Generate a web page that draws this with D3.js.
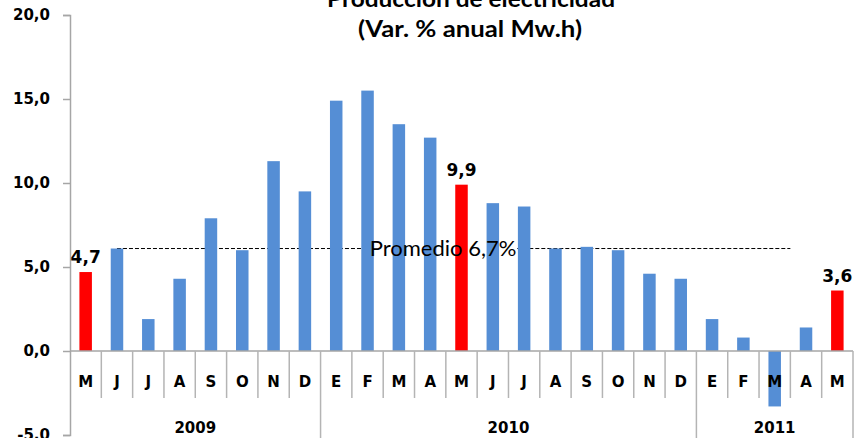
<!DOCTYPE html>
<html>
<head>
<meta charset="utf-8">
<script src="https://cdn.jsdelivr.net/npm/d3@7"></script>
<style>
  body { margin: 0; background: #fff; }
  svg { display: block; }
</style>
</head>
<body>
<svg id="chart" width="862" height="438"></svg>
<script>
// data
const months = ["M","J","J","A","S","O","N","D","E","F","M","A","M","J","J","A","S","O","N","D","E","F","M","A","M"];
const values = [4.7,6.1,1.9,4.3,7.9,6.0,11.3,9.5,14.9,15.5,13.5,12.7,9.9,8.8,8.6,6.1,6.2,6.0,4.6,4.3,1.9,0.8,-3.3,1.4,3.6];
const highlighted = [0, 12, 24];
const years = [{label:"2009", from:0, to:8}, {label:"2010", from:8, to:20}, {label:"2011", from:20, to:25}];
const yTicks = [-5, 0, 5, 10, 15, 20];
const avgLine = 6.1;          // where the dashed line sits in the picture
const avgLabel = "Promedio 6,7%";

const svg = d3.select("#chart");
const mLeft = 70, mRight = 853, mTop = 15, mBottom = 435;
const boldFont = "'DejaVu Sans', Verdana, sans-serif";

const fmt = d => d.toFixed(1).replace(".", ",");

const y = d3.scaleLinear().domain([-5, 20]).range([mBottom, mTop]);
const edge = i => mLeft + i * (mRight - mLeft) / months.length;
const cx = i => (edge(i) + edge(i + 1)) / 2;

// title
const title = svg.append("text")
  .attr("text-anchor", "middle")
  .style("font-family", "Lato, 'Open Sans', sans-serif").style("font-weight", "bold")
  .style("font-size", "23px").attr("fill", "#000");
title.append("tspan").attr("x", 471).attr("y", 7)
  .attr("textLength", 288).attr("lengthAdjust", "spacingAndGlyphs")
  .text("Producción de electricidad");
title.append("tspan").attr("x", 470).attr("y", 37)
  .attr("textLength", 224).attr("lengthAdjust", "spacingAndGlyphs")
  .text("(Var. % anual Mw.h)");

// y axis
const yAxis = d3.axisLeft(y).tickValues(yTicks).tickSize(7).tickFormat(fmt);
const yG = svg.append("g").attr("transform", "translate(" + mLeft + ",0)").call(yAxis);
yG.select(".domain").attr("stroke", "#a6a6a6").attr("stroke-width", 1.5);
yG.selectAll(".tick line").attr("stroke", "#a6a6a6").attr("stroke-width", 1.5);
yG.selectAll(".tick text")
  .attr("x", -20)
  .style("font-family", boldFont).style("font-weight", "bold")
  .style("font-size", "15px").attr("fill", "#000");

// bars
const bw = 12.5;
svg.append("g").selectAll("rect").data(values).join("rect")
  .attr("x", (d, i) => cx(i) - bw / 2)
  .attr("y", d => y(Math.max(0, d)))
  .attr("width", bw)
  .attr("height", d => Math.abs(y(d) - y(0)))
  .attr("fill", (d, i) => highlighted.includes(i) ? "#ff0000" : "#558ed5");

// zero line and category frame
const y0 = y(0);
svg.append("line").attr("x1", mLeft).attr("x2", mRight).attr("y1", y0).attr("y2", y0)
  .attr("stroke", "#a6a6a6").attr("stroke-width", 1.5);

const yearEdges = years.map(d => d.from).concat([months.length]);
for (let i = 1; i <= months.length; i++) {
  const isYear = yearEdges.includes(i);
  svg.append("line")
    .attr("x1", edge(i)).attr("x2", edge(i))
    .attr("y1", y0).attr("y2", isYear ? 438 : 398)
    .attr("stroke", "#b4b4b4").attr("stroke-width", 1.5);
}

// month labels
svg.append("g").selectAll("text").data(months).join("text")
  .attr("x", (d, i) => cx(i))
  .attr("y", 387)
  .attr("text-anchor", "middle")
  .style("font-family", boldFont).style("font-weight", "bold")
  .style("font-size", "15px")
  .text(d => d);

// year labels
svg.append("g").selectAll("text").data(years).join("text")
  .attr("x", d => (edge(d.from) + edge(d.to)) / 2)
  .attr("y", 433)
  .attr("text-anchor", "middle")
  .style("font-family", boldFont).style("font-weight", "bold")
  .style("font-size", "15px")
  .text(d => d.label);

// average line, broken where the label sits
const avgY = y(avgLine);
const lab = svg.append("text")
  .attr("x", 443).attr("y", avgY + 7)
  .attr("text-anchor", "middle")
  .style("font-family", "Lato, 'Open Sans', sans-serif").style("font-size", "22px")
  .text(avgLabel);
const lw = lab.node().getComputedTextLength();
[[cx(1), 443 - lw / 2 - 1], [443 + lw / 2 + 1, edge(23)]].forEach(([a, b]) => {
  svg.insert("line", "text")
    .attr("x1", a).attr("x2", b)
    .attr("y1", avgY).attr("y2", avgY)
    .attr("stroke", "#000").attr("stroke-width", 1).attr("stroke-dasharray", "4,2");
});

// value labels on the highlighted bars
svg.append("g").selectAll("text").data(highlighted).join("text")
  .attr("x", i => cx(i))
  .attr("y", i => y(values[i]) - 9)
  .attr("text-anchor", "middle")
  .style("font-family", boldFont).style("font-weight", "bold")
  .style("font-size", "17px")
  .text(i => fmt(values[i]));
</script>
</body>
</html>
